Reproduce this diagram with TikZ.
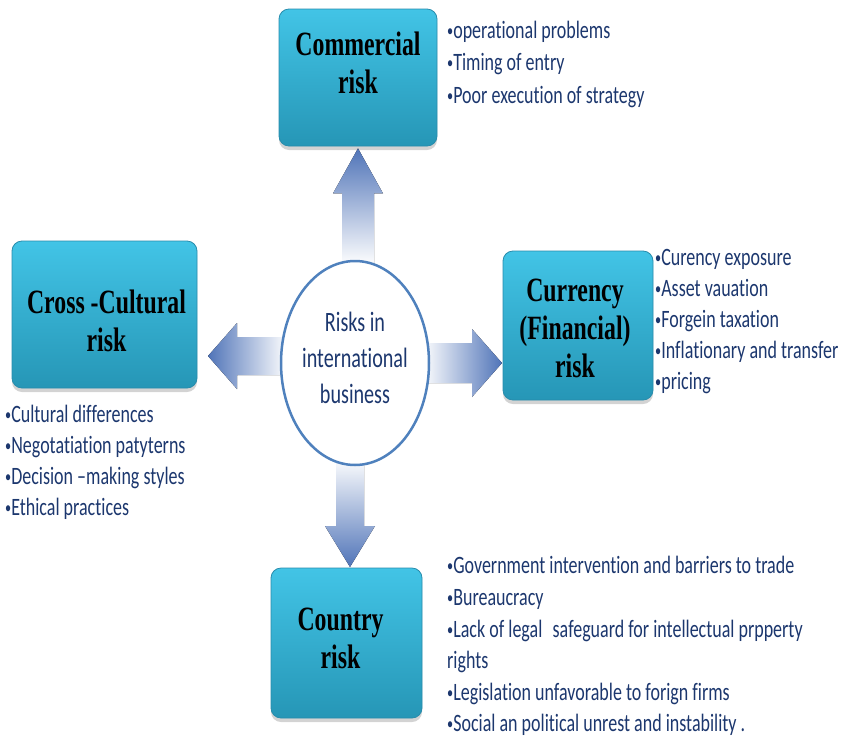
\documentclass[tikz,border=0pt]{standalone}
\usepackage{fontspec}
\usetikzlibrary{calc,shadows,shapes.geometric}
\newfontfamily\boxfont{Liberation Serif}[FakeStretch=0.70]
\newfontfamily\bulfont{Carlito}[FakeStretch=0.72,Ligatures=NoCommon]
\newcommand\smallbul{\raisebox{1.8pt}{\fontsize{17}{17}\selectfont•}}
\definecolor{navy}{RGB}{28,55,110}
\definecolor{boxtop}{RGB}{66,196,230}
\definecolor{boxbot}{RGB}{38,150,182}
\definecolor{boxedge}{RGB}{40,140,172}
\definecolor{arrowdark}{RGB}{80,116,184}
\definecolor{ringblue}{RGB}{79,129,189}
\begin{document}
\begin{tikzpicture}[x=1pt,y=-1pt,
  riskbox/.style={draw=boxedge, line width=0.8pt, rounded corners=10pt,
    top color=boxtop, bottom color=boxbot,
    drop shadow={shadow xshift=0pt, shadow yshift=-4pt, opacity=0.35},
    inner sep=0pt},
  boxtext/.style={font=\boxfont\bfseries\fontsize{34}{38}\selectfont, align=center, inner sep=0pt, text=black},
  bul/.style={anchor=base west, inner sep=0pt, text=navy, font=\bulfont\fontsize{25}{31}\selectfont},
  ctrtext/.style={font=\bulfont\fontsize{28}{36}\selectfont, align=center, inner sep=0pt, text=navy},
]
\useasboundingbox (0,0) rectangle (847,737);

% boxes
\node[riskbox, minimum width=158pt, minimum height=137pt] (comm) at (358,77.5) {};
\node[riskbox, minimum width=185pt, minimum height=147pt] (cult) at (104.5,314.5) {};
\node[riskbox, minimum width=150pt, minimum height=149pt] (curr) at (578,325.5) {};
\node[riskbox, minimum width=151pt, minimum height=150pt] (ctry) at (346.5,643) {};

\node[boxtext] (commT) at (358,62.5) {Commercial\\risk};
\node[boxtext] (cultT) at (106.5,321) {Cross -Cultural\\risk};
\node[boxtext] (currT) at (575,328) {Currency\\(Financial)\\risk};
\node[boxtext] (ctryT) at (340.5,638) {Country\\risk};

% arrow tips
\coordinate (tU) at ($(comm.south)+(0,2)$);
\coordinate (tL) at (208,356);
\coordinate (tR) at (502,363);
\coordinate (tD) at (350,567);

% block arrows
\fill[top color=arrowdark, bottom color=white]
  (tU) -- ($(tU)+(25,45)$) -- ($(tU)+(16,45)$) -- ($(tU)+(16,117)$)
  -- ($(tU)+(-16,117)$) -- ($(tU)+(-16,45)$) -- ($(tU)+(-25,45)$) -- cycle;
\fill[left color=arrowdark, right color=white]
  (tL) -- ($(tL)+(29,-33)$) -- ($(tL)+(29,-19)$) -- ($(tL)+(80,-19)$)
  -- ($(tL)+(80,19)$) -- ($(tL)+(29,19)$) -- ($(tL)+(29,33)$) -- cycle;
\fill[right color=arrowdark, left color=white]
  (tR) -- ($(tR)+(-30,-34)$) -- ($(tR)+(-30,-20)$) -- ($(tR)+(-80,-20)$)
  -- ($(tR)+(-80,20)$) -- ($(tR)+(-30,20)$) -- ($(tR)+(-30,34)$) -- cycle;
\fill[bottom color=arrowdark, top color=white]
  (tD) -- ($(tD)+(25,-41)$) -- ($(tD)+(14,-41)$) -- ($(tD)+(14,-110)$)
  -- ($(tD)+(-14,-110)$) -- ($(tD)+(-14,-41)$) -- ($(tD)+(-25,-41)$) -- cycle;

% centre
\node[ellipse, draw=ringblue, line width=2.5pt, fill=white, minimum width=148pt, minimum height=204pt, inner sep=0pt] (ctr) at (355,363) {};
\node[ctrtext] (ctrT) at (355,358) {Risks in\\international\\business};

% bullets
\foreach \y/\t [count=\i] in {38/operational problems, 70.5/Timing of entry, 103/Poor execution of strategy}
  \node[bul] (cb\i) at (447,\y) {\smallbul\t};
\foreach \y/\t [count=\i] in {422/Cultural differences, 453/Negotatiation patyterns, 484/Decision –making styles, 515/Ethical practices}
  \node[bul] (xb\i) at (5,\y) {\smallbul\t};
\foreach \y/\t [count=\i] in {265/Curency exposure, 296/Asset vauation, 327/Forgein taxation, 358/Inflationary and transfer, 389/pricing}
  \node[bul] (fb\i) at (655,\y) {\smallbul\t};
\node[bul] (kb1) at (447,573) {\smallbul Government intervention and barriers to trade};
\node[bul] (kb2) at (447,605) {\smallbul Bureaucracy};
\node[bul] (kb3) at (447,637) {\smallbul Lack of legal\hspace{0.25em} safeguard for intellectual prpperty};
\node[bul] (kb4) at (447,668) {rights};
\node[bul] (kb5) at (447,700) {\smallbul Legislation unfavorable to forign firms};
\node[bul] (kb6) at (447,731) {\smallbul Social an political unrest and instability .};
\end{tikzpicture}
\end{document}
